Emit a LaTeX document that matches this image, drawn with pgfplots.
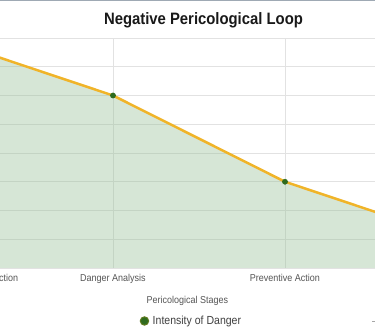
\documentclass[border=0pt]{standalone}
\usepackage{pgfplots}
\pgfplotsset{compat=1.18}
\usepackage{fontspec}
\setmainfont{Liberation Sans}[FakeStretch=0.9]
\definecolor{gridc}{HTML}{E2E2E2}
\definecolor{linec}{HTML}{F0B429}
\definecolor{fillc}{HTML}{8FBC8F}
\definecolor{markc}{HTML}{2F6B1E}
\definecolor{markb}{HTML}{5E7A1E}
\definecolor{txtc}{HTML}{555555}
\definecolor{borderc}{HTML}{9FA9B4}
\begin{document}
\begin{tikzpicture}[x=1pt,y=1pt]
\path[use as bounding box] (0,0) rectangle (375,334);
\clip (0,0) rectangle (375,334);
\fill[white] (0,0) rectangle (375,334);
\draw[borderc, line width=1.5pt] (0,334) -- (375,334);
\begin{axis}[
  at={(-59pt,66pt)}, anchor=south west,
  scale only axis, width=516pt, height=230pt,
  xmin=0, xmax=3, ymin=0, ymax=8,
  xtick={0,1,2,3},
  xticklabels={Risk Awareness and Danger Detection, Danger Analysis, Preventive Action, {}},
  ytick={0,1,...,8}, yticklabels={},
  grid=major, major grid style={gridc, line width=0.8pt},
  axis line style={gridc, line width=0.8pt},
  major tick length=0pt,
  xticklabel style={anchor=base, yshift=-14pt, font=\fontsize{10}{12}\selectfont, text=txtc, inner sep=0pt},
  xlabel={Pericological Stages},
  xlabel style={at={(axis description cs:0.4777,0)}, anchor=base, yshift=-36pt, font=\fontsize{10}{12}\selectfont, text=txtc, inner sep=0pt},
  legend style={at={(axis description cs:0.3828,-0.2304)}, anchor=west, draw=none, fill=none, inner sep=0pt, font=\fontsize{11.7}{14}\selectfont, text=black!75},
  legend cell align=left,
  legend image code/.code={\path (0pt,0pt) (9.5pt,0pt); \draw[fill=markc, draw=markb, line width=1pt] (4.5pt,0pt) circle (4.2pt);},
]
\addplot[draw=none, fill=fillc, fill opacity=0.36, forget plot] coordinates {(0,8) (1,6) (2,3) (3,1)} \closedcycle;
\addplot[linec, line width=2.5pt, mark=*, mark size=2.6pt, mark options={fill=markc, draw=markc, line width=0.5pt}] coordinates {(0,8) (1,6) (2,3) (3,1)};
\addlegendentry{Intensity of Danger}
\end{axis}
\node[anchor=base, font=\bfseries\fontsize{16.5}{19}\selectfont, text=black!90, inner sep=0pt] at (203.5,309) {Negative Pericological Loop};
\draw[gray!70, line width=1pt] (372,12) -- (375,12);
\end{tikzpicture}
\end{document}
